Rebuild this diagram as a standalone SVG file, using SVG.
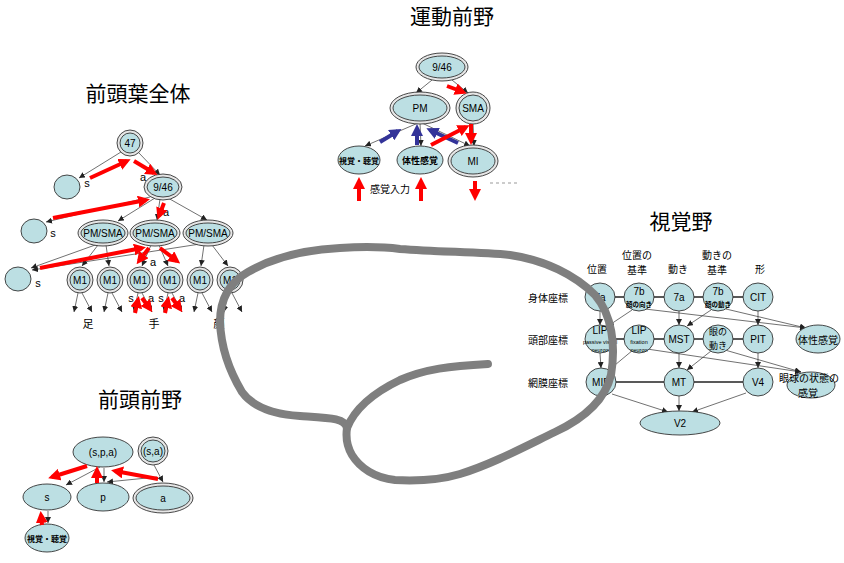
<svg xmlns="http://www.w3.org/2000/svg" width="844" height="563" viewBox="0 0 844 563">
<defs>
<style>
.n{fill:#BCDFE3;stroke:#333;stroke-width:0.9}
.o{fill:#e6e6e6;stroke:#333;stroke-width:0.9}
.t{font-family:"Liberation Sans",Arial,sans-serif;font-size:10px;text-anchor:middle;dominant-baseline:central;fill:#000}
.j{font-family:"Noto Sans CJK JP",sans-serif;text-anchor:middle;dominant-baseline:central;fill:#000}
.ttl{font-family:"Noto Sans CJK JP",sans-serif;font-size:21px;text-anchor:middle;fill:#000}
.th{stroke:#333;stroke-width:0.7;fill:none;marker-end:url(#ah)}
.ln{stroke:#222;stroke-width:1.3;fill:none}
.red{stroke:#f00;stroke-width:4;fill:none;marker-end:url(#rh)}
.blue{stroke:#333399;stroke-width:4;fill:none;marker-end:url(#bh)}
</style>
<marker id="ah" markerUnits="userSpaceOnUse" viewBox="0 0 6 6" refX="6" refY="3" markerWidth="6" markerHeight="6" orient="auto"><path d="M0,0 L6,3 L0,6 z" fill="#222"/></marker>
<marker id="rh" markerUnits="userSpaceOnUse" viewBox="0 0 12 12" refX="8" refY="6" markerWidth="12" markerHeight="12" orient="auto"><path d="M0,0 L12,6 L0,12 z" fill="#f00"/></marker>
<marker id="bh" markerUnits="userSpaceOnUse" viewBox="0 0 12 12" refX="8" refY="6" markerWidth="12" markerHeight="12" orient="auto"><path d="M0,0 L12,6 L0,12 z" fill="#333399"/></marker>
</defs>
<rect width="844" height="563" fill="#fff"/>

<!-- Titles -->
<text class="ttl" x="138" y="101">前頭葉全体</text>
<text class="ttl" x="452" y="24">運動前野</text>
<text class="ttl" x="681" y="229">視覚野</text>
<text class="ttl" x="140" y="407">前頭前野</text>

<!-- ===== Left tree connectors ===== -->
<g id="connectors-left">
<line class="th" x1="121" y1="152" x2="79" y2="178"/>
<line class="th" x1="139" y1="153" x2="160" y2="175"/>
<line class="th" x1="150" y1="197" x2="46" y2="222"/>
<line class="th" x1="155" y1="198" x2="118" y2="221"/>
<line class="th" x1="160" y1="199" x2="157" y2="220"/>
<line class="th" x1="168" y1="198" x2="207" y2="220"/>
<line class="th" x1="98" y1="244" x2="31" y2="268"/>
<line class="th" x1="200" y1="244" x2="32" y2="270"/>
<line class="th" x1="98" y1="245" x2="82" y2="266"/>
<line class="th" x1="106" y1="245" x2="109" y2="266"/>
<line class="th" x1="151" y1="245" x2="142" y2="266"/>
<line class="th" x1="159" y1="245" x2="168" y2="266"/>
<line class="th" x1="204" y1="245" x2="201" y2="266"/>
<line class="th" x1="212" y1="245" x2="228" y2="266"/>
<line class="th" x1="78" y1="293" x2="74" y2="312"/><line class="th" x1="82" y1="293" x2="92" y2="312"/>
<line class="th" x1="108" y1="293" x2="104" y2="312"/><line class="th" x1="112" y1="293" x2="122" y2="312"/>
<line class="th" x1="138" y1="293" x2="134" y2="312"/><line class="th" x1="142" y1="293" x2="152" y2="312"/>
<line class="th" x1="168" y1="293" x2="164" y2="312"/><line class="th" x1="172" y1="293" x2="182" y2="312"/>
<line class="th" x1="198" y1="293" x2="194" y2="312"/><line class="th" x1="202" y1="293" x2="212" y2="312"/>
<line class="th" x1="228" y1="293" x2="224" y2="312"/><line class="th" x1="232" y1="293" x2="242" y2="312"/>
</g>

<!-- Left tree nodes -->
<g id="lt-47"><ellipse class="o" cx="130" cy="143" rx="13" ry="13"/><ellipse class="n" cx="130" cy="143" rx="10" ry="10"/><text class="t" x="130" y="143">47</text></g>
<g id="lt-c1"><ellipse class="n" cx="67" cy="187" rx="13" ry="12"/></g>
<g id="lt-946"><ellipse class="o" cx="163" cy="187" rx="19" ry="13"/><ellipse class="n" cx="163" cy="187" rx="16" ry="10"/><text class="t" x="163" y="187">9/46</text></g>
<g id="lt-c2"><ellipse class="n" cx="34" cy="231" rx="13" ry="12"/></g>
<g id="lt-pm1"><ellipse class="o" cx="103" cy="233" rx="25" ry="13"/><ellipse class="n" cx="103" cy="233" rx="22" ry="10"/><text class="t" x="103" y="233">PM/SMA</text></g>
<g id="lt-pm2"><ellipse class="o" cx="155" cy="233" rx="25" ry="13"/><ellipse class="n" cx="155" cy="233" rx="22" ry="10"/><text class="t" x="155" y="233">PM/SMA</text></g>
<g id="lt-pm3"><ellipse class="o" cx="208" cy="233" rx="25" ry="13"/><ellipse class="n" cx="208" cy="233" rx="22" ry="10"/><text class="t" x="208" y="233">PM/SMA</text></g>
<g id="lt-c3"><ellipse class="n" cx="18" cy="279" rx="13" ry="12"/></g>
<g id="lt-m1a"><ellipse class="o" cx="80" cy="280" rx="13" ry="13"/><ellipse class="n" cx="80" cy="280" rx="10" ry="10"/><text class="t" x="80" y="280">M1</text></g>
<g id="lt-m1b"><ellipse class="o" cx="110" cy="280" rx="13" ry="13"/><ellipse class="n" cx="110" cy="280" rx="10" ry="10"/><text class="t" x="110" y="280">M1</text></g>
<g id="lt-m1c"><ellipse class="o" cx="140" cy="280" rx="13" ry="13"/><ellipse class="n" cx="140" cy="280" rx="10" ry="10"/><text class="t" x="140" y="280">M1</text></g>
<g id="lt-m1d"><ellipse class="o" cx="170" cy="280" rx="13" ry="13"/><ellipse class="n" cx="170" cy="280" rx="10" ry="10"/><text class="t" x="170" y="280">M1</text></g>
<g id="lt-m1e"><ellipse class="o" cx="200" cy="280" rx="13" ry="13"/><ellipse class="n" cx="200" cy="280" rx="10" ry="10"/><text class="t" x="200" y="280">M1</text></g>
<g id="lt-m1f"><ellipse class="o" cx="230" cy="280" rx="13" ry="13"/><ellipse class="n" cx="230" cy="280" rx="10" ry="10"/><text class="t" x="230" y="280">M1</text></g>

<!-- Left tree labels -->
<g id="lt-labels">
<text class="t" x="87" y="183" style="font-size:11px">s</text>
<text class="t" x="143" y="177" style="font-size:11px">a</text>
<text class="t" x="53" y="233" style="font-size:11px">s</text>
<text class="t" x="166" y="212" style="font-size:11px">a</text>
<text class="t" x="38" y="283" style="font-size:11px">s</text>
<text class="t" x="153" y="262" style="font-size:11px">a</text>
<text class="t" x="131" y="298" style="font-size:11px">s</text>
<text class="t" x="151" y="298" style="font-size:11px">a</text>
<text class="t" x="161" y="298" style="font-size:11px">s</text>
<text class="t" x="182" y="298" style="font-size:11px">a</text>
<text class="j" x="88" y="323" style="font-size:11px">足</text>
<text class="j" x="154" y="323" style="font-size:11px">手</text>
<text class="j" x="219" y="323" style="font-size:11px">顔</text>
</g>

<!-- Left tree red arrows -->
<g id="lt-red">
<line class="red" x1="90" y1="178" x2="127" y2="161"/>
<line class="red" x1="134" y1="161" x2="154" y2="173"/>
<line class="red" x1="53" y1="218" x2="146" y2="200"/>
<line class="red" x1="164" y1="203" x2="159" y2="216"/>
<line class="red" x1="40" y1="268" x2="142" y2="248"/>
<line class="red" x1="149" y1="248" x2="139" y2="261"/>
<line class="red" x1="160" y1="248" x2="177" y2="261"/>
<line class="red" x1="135" y1="313" x2="138" y2="300"/>
<line class="red" x1="142" y1="298" x2="150" y2="309"/>
<line class="red" x1="165" y1="313" x2="168" y2="300"/>
<line class="red" x1="172" y1="298" x2="180" y2="309"/>
</g>

<!-- ===== Top middle (運動前野) ===== -->
<g id="connectors-top">
<line class="th" x1="432" y1="80" x2="416" y2="93"/>
<line class="th" x1="452" y1="80" x2="468" y2="93"/>
<line class="th" x1="418" y1="123" x2="365" y2="146"/>
<line class="th" x1="420" y1="123" x2="421" y2="146"/>
<line class="th" x1="422" y1="123" x2="470" y2="146"/>
<line class="th" x1="473" y1="123" x2="474" y2="146"/>
</g>
<g id="tm-946"><ellipse class="o" cx="442" cy="67" rx="26" ry="14"/><ellipse class="n" cx="442" cy="67" rx="23" ry="11"/><text class="t" x="442" y="67">9/46</text></g>
<g id="tm-pm"><ellipse class="o" cx="420" cy="108" rx="30" ry="16"/><ellipse class="n" cx="420" cy="108" rx="27" ry="13"/><text class="t" x="420" y="108">PM</text></g>
<g id="tm-sma"><ellipse class="o" cx="473" cy="108" rx="17" ry="16"/><ellipse class="n" cx="473" cy="108" rx="14" ry="13"/><text class="t" x="473" y="108">SMA</text></g>
<g id="tm-vis"><ellipse class="n" cx="359" cy="160" rx="21" ry="14"/><text class="j" x="359" y="160" style="font-size:8px;font-weight:bold">視覚・聴覚</text></g>
<g id="tm-soma"><ellipse class="n" cx="420" cy="160" rx="23" ry="14"/><text class="j" x="420" y="160" style="font-size:9px;font-weight:bold">体性感覚</text></g>
<g id="tm-mi"><ellipse class="o" cx="473" cy="161" rx="25" ry="16"/><ellipse class="n" cx="473" cy="161" rx="22" ry="13"/><text class="t" x="473" y="161">MI</text></g>
<g id="tm-arrows">
<line class="blue" x1="380" y1="142" x2="398" y2="131"/>
<line class="blue" x1="417" y1="145" x2="417" y2="128"/>
<line class="blue" x1="458" y1="143" x2="430" y2="130"/>
<line class="red" x1="447" y1="86" x2="463" y2="92"/>
<line class="red" x1="431" y1="145" x2="466" y2="127"/>
<line class="red" x1="471" y1="124" x2="471" y2="141"/>
<line class="red" x1="359" y1="201" x2="359" y2="181"/>
<line class="red" x1="421" y1="201" x2="421" y2="181"/>
<line class="red" x1="475" y1="181" x2="475" y2="197"/>
<line x1="490" y1="183" x2="518" y2="183" stroke="#999" stroke-width="1" stroke-dasharray="3,3"/>
</g>
<text class="j" x="390" y="188" style="font-size:10px">感覚入力</text>

<!-- ===== Right network (視覚野) ===== -->
<g id="rn-headers">
<text class="j" x="597" y="268" style="font-size:10px">位置</text>
<text class="j" x="637" y="254" style="font-size:10px">位置の</text>
<text class="j" x="637" y="269" style="font-size:10px">基準</text>
<text class="j" x="678" y="268" style="font-size:10px">動き</text>
<text class="j" x="717" y="254" style="font-size:10px">動きの</text>
<text class="j" x="717" y="269" style="font-size:10px">基準</text>
<text class="j" x="760" y="268" style="font-size:10px">形</text>
<text class="j" x="548" y="297" style="font-size:10px">身体座標</text>
<text class="j" x="548" y="339" style="font-size:10px">頭部座標</text>
<text class="j" x="548" y="382" style="font-size:10px">網膜座標</text>
</g>
<g id="connectors-right">
<line class="ln" x1="600" y1="297" x2="758" y2="297"/>
<line class="ln" x1="600" y1="339" x2="758" y2="339"/>
<line class="ln" x1="601" y1="382" x2="758" y2="382"/>
<line class="th" x1="600" y1="311" x2="600" y2="325"/>
<line class="th" x1="600" y1="353" x2="601" y2="368"/>
<line class="th" x1="679" y1="311" x2="679" y2="325"/>
<line class="th" x1="679" y1="353" x2="679" y2="368"/>
<line class="th" x1="758" y1="311" x2="758" y2="325"/>
<line class="th" x1="758" y1="353" x2="758" y2="368"/>
<line class="th" x1="679" y1="396" x2="679" y2="411"/>
<line class="th" x1="632" y1="310" x2="608" y2="326"/>
<line class="th" x1="711" y1="310" x2="687" y2="326"/>
<line class="th" x1="645" y1="309" x2="806" y2="328"/>
<line class="th" x1="726" y1="309" x2="806" y2="328"/>
<line class="th" x1="633" y1="350" x2="609" y2="370"/>
<line class="th" x1="711" y1="351" x2="687" y2="370"/>
<line class="th" x1="647" y1="349" x2="801" y2="372"/>
<line class="th" x1="725" y1="350" x2="801" y2="372"/>
<line class="th" x1="612" y1="394" x2="668" y2="412"/>
<line class="th" x1="746" y1="393" x2="692" y2="412"/>
</g>
<g id="rn-7a1"><ellipse class="n" cx="600" cy="297" rx="15" ry="14"/><text class="t" x="600" y="297">7a</text></g>
<g id="rn-7b1"><ellipse class="n" cx="639" cy="297" rx="15" ry="14"/><text class="t" x="639" y="291">7b</text><text class="j" x="639" y="304" style="font-size:6.5px;font-weight:bold">顔の向き</text></g>
<g id="rn-7a2"><ellipse class="n" cx="679" cy="297" rx="15" ry="14"/><text class="t" x="679" y="297">7a</text></g>
<g id="rn-7b2"><ellipse class="n" cx="718" cy="297" rx="15" ry="14"/><text class="t" x="718" y="291">7b</text><text class="j" x="718" y="304" style="font-size:6.5px;font-weight:bold">顔の動き</text></g>
<g id="rn-cit"><ellipse class="n" cx="758" cy="297" rx="15" ry="14"/><text class="t" x="758" y="297">CIT</text></g>
<g id="rn-lip1"><ellipse class="n" cx="600" cy="339" rx="15" ry="14"/><text class="t" x="600" y="330">LIP</text><text class="t" x="600" y="342" style="font-size:5.5px">passive visual</text><text class="t" x="600" y="350" style="font-size:5.5px">neuron</text></g>
<g id="rn-lip2"><ellipse class="n" cx="639" cy="339" rx="15" ry="14"/><text class="t" x="639" y="330">LIP</text><text class="t" x="639" y="342" style="font-size:5.5px">fixation</text><text class="t" x="639" y="350" style="font-size:5.5px">neuron</text></g>
<g id="rn-mst"><ellipse class="n" cx="679" cy="339" rx="15" ry="14"/><text class="t" x="679" y="339">MST</text></g>
<g id="rn-eye"><ellipse class="n" cx="718" cy="339" rx="15" ry="14"/><text class="j" x="718" y="331.5" style="font-size:9px">眼の</text><text class="j" x="718" y="345" style="font-size:9px">動き</text></g>
<g id="rn-pit"><ellipse class="n" cx="758" cy="339" rx="15" ry="14"/><text class="t" x="758" y="339">PIT</text></g>
<g id="rn-soma"><ellipse class="n" cx="818" cy="339" rx="22" ry="14"/><text class="j" x="818" y="339" style="font-size:10px">体性感覚</text></g>
<g id="rn-mip"><ellipse class="n" cx="601" cy="382" rx="15" ry="14"/><text class="t" x="601" y="382">MIP</text></g>
<g id="rn-mt"><ellipse class="n" cx="679" cy="382" rx="15" ry="14"/><text class="t" x="679" y="382">MT</text></g>
<g id="rn-v4"><ellipse class="n" cx="758" cy="382" rx="15" ry="14"/><text class="t" x="758" y="382">V4</text></g>
<g id="rn-eyeball"><ellipse class="n" cx="811" cy="385" rx="24" ry="13"/><text class="j" x="809" y="377" style="font-size:10px">眼球の状態の</text><text class="j" x="808" y="392" style="font-size:10px">感覚</text></g>
<g id="rn-v2"><ellipse class="n" cx="680" cy="423" rx="40" ry="12"/><text class="t" x="680" y="423">V2</text></g>

<!-- ===== Bottom left (前頭前野) ===== -->
<g id="connectors-bl">
<line class="th" x1="100" y1="467" x2="66" y2="485"/>
<line class="th" x1="104" y1="468" x2="104" y2="482"/>
<line class="th" x1="154" y1="465" x2="163" y2="482"/>
<line class="th" x1="157" y1="477" x2="107" y2="482"/>
<line class="th" x1="48" y1="511" x2="48" y2="523"/>
</g>
<g id="bl-spa"><ellipse class="n" cx="103" cy="452" rx="30" ry="15"/><text class="t" x="103" y="452">(s,p,a)</text></g>
<g id="bl-sa"><ellipse class="o" cx="153" cy="451" rx="15" ry="14"/><ellipse class="n" cx="153" cy="451" rx="12" ry="11"/><text class="t" x="153" y="451">(s,a)</text></g>
<g id="bl-s"><ellipse class="n" cx="47" cy="497" rx="24" ry="13"/><text class="t" x="47" y="497">s</text></g>
<g id="bl-p"><ellipse class="n" cx="103" cy="497" rx="26" ry="14"/><text class="t" x="103" y="497">p</text></g>
<g id="bl-a"><ellipse class="o" cx="163" cy="498" rx="30" ry="15"/><ellipse class="n" cx="163" cy="498" rx="27" ry="12"/><text class="t" x="163" y="498">a</text></g>
<g id="bl-vis"><ellipse class="n" cx="47" cy="538" rx="22" ry="14"/><text class="j" x="47" y="538" style="font-size:8px;font-weight:bold">視覚・聴覚</text></g>
<g id="bl-red">
<line class="red" x1="87" y1="466" x2="52" y2="477"/>
<line class="red" x1="97" y1="483" x2="97" y2="470"/>
<line class="red" x1="158" y1="479" x2="115" y2="471"/>
<line class="red" x1="42" y1="525" x2="41" y2="515"/>
</g>

<!-- Brain outline -->
<g id="brain" fill="none" stroke="#7f7f7f" stroke-width="8" stroke-linecap="round" stroke-linejoin="round">
<path d="M347,428 C345,418 330,418 300,416 C270,414 252,406 242,392 C230,372 221,348 220,322 C220,298 230,282 248,272 C272,258 300,250 340,248 C370,246 385,247 400,249 C440,252 480,252 510,255 C545,260 575,275 595,295 C612,315 616,345 611,375 C605,400 585,418 555,432 C522,448 492,464 460,474 C440,480 415,481 395,480 C375,478 360,468 352,455 C346,445 346,435 347,428 Z"/>
<path d="M347,428 C355,408 375,392 400,380 C425,369 450,366 488,364"/>
</g>
</svg>
